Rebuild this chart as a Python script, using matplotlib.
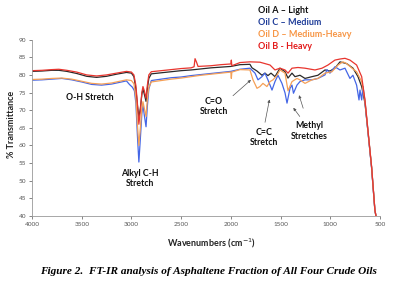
import matplotlib
matplotlib.use("Agg")
import matplotlib.pyplot as plt

# wavenumber (cm-1) / % transmittance, one pair of lists per oil
oil_a_wn = [4000, 3900, 3800, 3730, 3650, 3550, 3450, 3350, 3250, 3150, 3050, 3000, 2975, 2955, 2940,
            2925, 2910, 2895, 2884, 2870, 2853, 2840, 2825, 2800, 2700, 2600, 2500, 2400, 2300, 2200,
            2100, 2000, 1908, 1808, 1787, 1737, 1687, 1657, 1627, 1596, 1556, 1506, 1455, 1425, 1385,
            1355, 1305, 1254, 1184, 1124, 1053, 1003, 953, 902, 835, 771, 721, 684, 651, 618, 584, 551, 540]
oil_a_t = [81.0, 81.1, 81.3, 81.3, 81.0, 80.4, 79.6, 79.3, 79.6, 80.2, 80.7, 80.5, 79.5, 76.0, 71.5,
           68.0, 70.5, 74.5, 76.0, 74.5, 72.5, 76.0, 79.0, 80.3, 80.6, 80.9, 81.2, 81.4, 81.7, 82.0,
           82.2, 82.4, 82.9, 83.0, 82.0, 81.1, 79.9, 80.5, 79.8, 80.5, 79.5, 81.9, 80.9, 79.1, 80.5,
           79.5, 79.9, 79.0, 79.5, 79.9, 81.4, 81.1, 81.9, 83.7, 83.2, 81.9, 79.5, 76.7, 72.0, 63.2, 53.7, 41.6, 40.0]

oil_c_wn = [4000, 3900, 3800, 3700, 3600, 3500, 3400, 3300, 3200, 3100, 3050, 3020, 2990, 2970, 2955,
            2940, 2925, 2910, 2895, 2884, 2870, 2853, 2840, 2825, 2800, 2700, 2600, 2500, 2400, 2300,
            2200, 2100, 2000, 1908, 1808, 1757, 1727, 1687, 1657, 1627, 1586, 1556, 1526, 1486, 1455,
            1435, 1405, 1385, 1370, 1335, 1305, 1254, 1184, 1124, 1053, 1033, 1003, 953, 902, 852, 802,
            772, 735, 711, 701, 684, 671, 651, 618, 584, 551, 540]
oil_c_t = [78.5, 78.6, 78.8, 79.0, 78.6, 78.0, 77.3, 77.1, 77.4, 78.0, 78.3, 77.3, 76.5, 75.5, 72.0,
           63.0, 55.3, 62.0, 69.0, 71.5, 68.5, 65.3, 71.0, 76.0, 78.4, 78.8, 79.2, 79.4, 79.8, 80.1,
           80.4, 80.7, 81.0, 81.6, 81.9, 80.5, 78.6, 79.5, 80.5, 78.6, 75.7, 78.1, 79.9, 77.6, 74.9,
           72.0, 76.2, 77.1, 74.8, 77.1, 78.1, 78.6, 78.6, 79.0, 80.0, 81.5, 80.5, 82.3, 81.4, 81.9, 79.0,
           79.9, 77.1, 72.9, 75.7, 72.9, 76.7, 72.5, 63.0, 53.5, 41.5, 40.0]

oil_d_wn = [4000, 3900, 3800, 3700, 3600, 3500, 3400, 3300, 3200, 3100, 3050, 3000, 2975, 2955, 2940,
            2925, 2910, 2895, 2884, 2870, 2853, 2840, 2825, 2800, 2700, 2600, 2500, 2400, 2300, 2200,
            2100, 2000, 1995, 1990, 1908, 1808, 1777, 1737, 1707, 1677, 1637, 1606, 1576, 1536, 1506,
            1455, 1425, 1385, 1335, 1305, 1254, 1184, 1124, 1053, 983, 922, 872, 835, 781, 735, 684,
            651, 618, 584, 551, 540]
oil_d_t = [78.7, 78.8, 79.0, 79.1, 78.8, 78.2, 77.6, 77.4, 77.7, 78.3, 78.6, 78.4, 77.5, 73.5, 66.0,
           60.0, 65.0, 70.5, 72.4, 70.5, 68.2, 73.0, 76.5, 78.0, 78.4, 78.8, 79.1, 79.5, 79.9, 80.2,
           80.5, 80.8, 79.0, 80.8, 81.5, 81.4, 78.6, 76.2, 76.7, 77.6, 76.7, 78.1, 78.6, 79.9, 81.4,
           80.5, 75.5, 78.1, 79.0, 78.6, 77.6, 78.6, 79.0, 80.5, 80.9, 82.8, 83.7, 83.2, 81.9, 80.9, 78.1,
           72.7, 63.3, 53.8, 41.6, 40.0]

oil_b_wn = [4000, 3900, 3800, 3730, 3650, 3550, 3450, 3350, 3250, 3150, 3050, 3000, 2975, 2955, 2940,
            2925, 2910, 2895, 2884, 2870, 2853, 2840, 2825, 2800, 2700, 2600, 2500, 2400, 2370, 2360,
            2345, 2330, 2200, 2100, 2000, 1995, 1990, 1908, 1807, 1707, 1606, 1556, 1506, 1455, 1425,
            1385, 1325, 1254, 1154, 1083, 1023, 953, 902, 852, 802, 735, 684, 651, 618, 584, 551, 540]
oil_b_t = [81.2, 81.3, 81.5, 81.6, 81.3, 80.8, 80.0, 79.7, 80.0, 80.5, 81.0, 80.8, 80.0, 77.0, 72.0,
           66.0, 70.0, 75.0, 76.7, 75.5, 73.4, 77.0, 80.0, 80.9, 81.2, 81.5, 81.8, 82.0, 82.3, 84.6,
           83.6, 82.4, 82.6, 82.9, 83.1, 84.2, 82.6, 83.5, 83.7, 83.6, 82.8, 81.4, 81.9, 81.4, 80.5,
           81.9, 82.1, 81.9, 81.4, 81.9, 82.8, 84.2, 84.5, 84.7, 84.2, 82.8, 79.5, 72.9, 63.5, 53.9, 41.7, 40.0]

legend_labels = ["Oil A \u2013 Light", "Oil C \u2013 Medium", "Oil D \u2013 Medium-Heavy", "Oil B - Heavy"]
x_ticks = [4000, 3500, 3000, 2500, 2000, 1500, 1000, 500]
y_ticks = [40, 45, 50, 55, 60, 65, 70, 75, 80, 85, 90]

sans = ["Lato", "DejaVu Sans"]
plt.rcParams["font.family"] = sans

fig = plt.figure(figsize=(3.94, 2.82), dpi=100)
ax = fig.add_axes([0.0812, 0.234, 0.8832, 0.6255])

ax.plot(oil_a_wn, oil_a_t, color="#2a2a2a", lw=0.9)
ax.plot(oil_c_wn, oil_c_t, color="#4466e6", lw=0.9)
ax.plot(oil_d_wn, oil_d_t, color="#f5a057", lw=0.9)
ax.plot(oil_b_wn, oil_b_t, color="#e8352e", lw=0.9)

ax.set_xlim(4000, 500)
ax.set_ylim(40, 90)
ax.set_xticks(x_ticks)
ax.set_yticks(y_ticks)
ax.tick_params(labelsize=4.6, colors="#555555", length=2, width=0.5, pad=2)
for s in ["top", "right"]:
    ax.spines[s].set_visible(False)
for s in ["left", "bottom"]:
    ax.spines[s].set_color("#999999")
    ax.spines[s].set_linewidth(0.6)

fig.text(0.028, 0.56, "% Transmittance", rotation=90, ha="center", va="center",
         fontsize=6.5, fontweight="bold", color="#222222")
fig.text(0.536, 0.139, "Wavenumbers (cm$^{-1}$)", ha="center", va="center",
         fontsize=6.5, fontweight="bold", color="#222222")

# coloured legend text block
leg_colors = ["#111111", "#1f3d99", "#f79646", "#e31b1b"]
for i, (lab, c) in enumerate(zip(legend_labels, leg_colors)):
    fig.text(0.655, 0.962 - i * 0.0425, lab, color=c, fontsize=6.5, fontweight="bold",
             ha="left", va="center")

ann = dict(fontsize=6.3, fontweight="bold", ha="center", va="center", color="#111111",
           linespacing=1.15)
arrow = dict(arrowstyle="-|>", color="#555555", lw=0.5, mutation_scale=4)
ax.text(3417, 73.5, "O-H Stretch", **ann)
ax.text(2914, 50.5, "Alkyl C-H\nStretch", **ann)
ax.annotate("C=O\nStretch", xy=(1777, 79.1), xytext=(2170, 71.0), **ann,
            arrowprops=dict(arrow, relpos=(1.0, 0.85)))
ax.annotate("C=C\nStretch", xy=(1606, 73.8), xytext=(1667, 62.3), **ann,
            arrowprops=dict(arrow, relpos=(0.5, 1.0)))
ax.annotate("Methyl\nStretches", xy=(1388, 71.3), xytext=(1214, 64.1), **ann,
            arrowprops=dict(arrow, relpos=(0.35, 1.0)))
ax.annotate("", xy=(1322, 75.0), xytext=(1264, 69.8),
            arrowprops=dict(arrow))

fig.text(0.529, 0.037, "Figure 2.  FT-IR analysis of Asphaltene Fraction of All Four Crude Oils",
         ha="center", va="center", fontsize=8.1, fontweight="bold", style="italic",
         family=["Liberation Serif", "DejaVu Serif"])

plt.savefig("out.png", dpi=100)
